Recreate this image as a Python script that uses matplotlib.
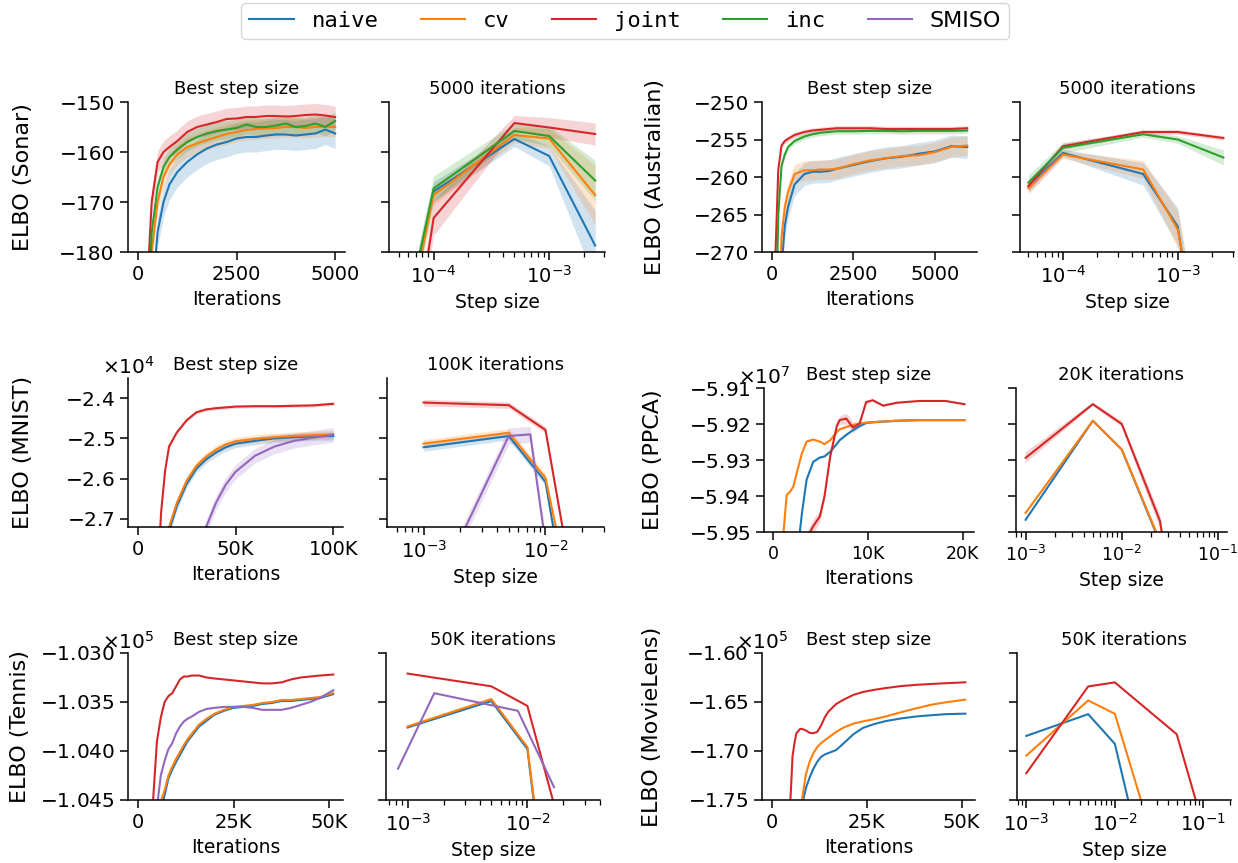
import numpy as np
import matplotlib.pyplot as plt
from matplotlib.lines import Line2D

plt.rcParams['font.family'] = ['DejaVu Sans']
plt.rcParams['font.size'] = 13
plt.rcParams['xtick.labelsize'] = 14
plt.rcParams['ytick.labelsize'] = 14.5
plt.rcParams['axes.spines.top'] = False
plt.rcParams['axes.spines.right'] = False
plt.rcParams['axes.linewidth'] = 1.1
plt.rcParams['xtick.major.size'] = 6
plt.rcParams['ytick.major.size'] = 6
plt.rcParams['xtick.minor.size'] = 3.5
plt.rcParams['xtick.major.width'] = 1.1
plt.rcParams['ytick.major.width'] = 1.1
plt.rcParams['xtick.minor.width'] = 0.9

methods = ['naive', 'cv', 'joint', 'inc', 'SMISO']
colors = {'naive': '#1f77b4', 'cv': '#ff7f0e', 'joint': '#d62728',
          'inc': '#2ca02c', 'SMISO': '#9467bd'}

# ---------------- Sonar ----------------
sonar_iters = [0, 250, 350, 500, 650, 800, 1000, 1250, 1500, 1750, 2000, 2250,
               2500, 2750, 3000, 3250, 3500, 3750, 4000, 4250, 4500, 4750, 5000]
sonar_best = {
    'naive': [-300, -215, -190, -176, -170, -166.5, -164, -162, -160.5, -159.3, -158.5, -158,
              -157.3, -157, -157, -156.7, -156.5, -156.5, -156.7, -156.5, -156.3, -155.5, -156.3],
    'cv': [-300, -200, -180, -170, -165, -162.5, -160.5, -159, -158.3, -157.6, -157, -156.4,
           -156, -155.6, -155.4, -155.3, -155.2, -155, -155, -155.2, -155, -154.9, -155],
    'joint': [-300, -185, -170, -162, -160, -159, -157.8, -156, -155, -154.5, -154, -153.4,
              -153.3, -153, -153, -152.8, -152.8, -152.9, -152.8, -152.6, -152.5, -152.7, -153],
    'inc': [-300, -195, -176, -167, -163, -161, -159.5, -158, -157, -156.3, -155.8, -155.5,
            -155.2, -154.5, -155, -155, -154.7, -154.3, -155, -154.8, -154.3, -155, -153.8],
}
sonar_best_std = {'naive': 3.0, 'cv': 2.0, 'joint': 2.2, 'inc': 1.8}
sonar_steps = [5e-5, 1e-4, 5e-4, 1e-3, 2.5e-3]
sonar_final = {
    'naive': [-200, -167.9, -157.4, -160.8, -178.7],
    'cv': [-202, -168.6, -156.6, -157.3, -168.6],
    'joint': [-218, -173.2, -154.2, -155.1, -156.4],
    'inc': [-200, -167.3, -155.8, -156.8, -165.7],
}
sonar_final_std = {
    'naive': [3, 2, 1.5, 2, 7],
    'cv': [3, 2, 1.5, 2, 6],
    'joint': [3, 3.5, 1.5, 2, 2.2],
    'inc': [3, 2.5, 1.5, 2, 4],
}

# ---------------- Australian ----------------
aus_iters = [0, 100, 200, 300, 400, 500, 700, 1000, 1250, 1500, 1750, 2000,
             2500, 3000, 3500, 4000, 4500, 5000, 5500, 6000]
aus_best = {
    'naive': [-320, -305, -290, -272, -266.5, -264, -261, -259.6, -259.3, -259.3, -259.2, -258.9,
              -258.4, -257.9, -257.5, -257.3, -256.9, -256.6, -255.9, -256],
    'cv': [-320, -300, -280, -268, -264, -262, -259.6, -259.1, -259.1, -259, -259, -258.9,
           -258.3, -257.8, -257.5, -257.2, -257.1, -256.7, -256, -255.8],
    'joint': [-320, -272, -259, -255.8, -255.2, -254.9, -254.4, -254, -253.8, -253.7, -253.6, -253.5,
              -253.5, -253.5, -253.6, -253.6, -253.6, -253.6, -253.6, -253.5],
    'inc': [-320, -285, -265, -258.5, -257, -256, -255.2, -254.6, -254.3, -254.1, -254, -253.9,
            -253.9, -253.85, -253.85, -253.9, -253.85, -253.85, -253.85, -253.8],
}
aus_best_std = {'naive': 1.5, 'cv': 1.3, 'joint': 0.35, 'inc': 0.4}
aus_steps = [5e-5, 1e-4, 5e-4, 1e-3, 2.5e-3]
aus_final = {
    'naive': [-261.3, -256.8, -259.6, -266.6, -306],
    'cv': [-261.5, -257.0, -259.0, -267.0, -300],
    'joint': [-261.2, -255.9, -254.0, -254.0, -254.8],
    'inc': [-260.75, -256.1, -254.3, -255.0, -257.4],
}
aus_final_std = {
    'naive': [0.8, 0.5, 1.5, 2.5, 3],
    'cv': [0.8, 0.5, 1.2, 2.5, 3],
    'joint': [0.6, 0.4, 0.3, 0.3, 0.3],
    'inc': [1.0, 0.7, 0.4, 0.5, 1.0],
}

# ---------------- MNIST (x1e4) ----------------
mnist_iters = [0, 10e3, 12e3, 14e3, 16e3, 20e3, 25e3, 30e3, 35e3, 40e3, 45e3,
               50e3, 60e3, 70e3, 80e3, 90e3, 100e3]
mnist_best = {
    'naive': [-3.5, -3.2, -3.0, -2.8, -2.73, -2.668, -2.613, -2.575, -2.552, -2.535, -2.522,
              -2.513, -2.506, -2.5, -2.497, -2.495, -2.494],
    'cv': [-3.5, -3.2, -3.0, -2.78, -2.72, -2.66, -2.605, -2.568, -2.545, -2.528, -2.515,
           -2.507, -2.501, -2.497, -2.494, -2.492, -2.490],
    'joint': [-3.5, -2.85, -2.68, -2.58, -2.52, -2.485, -2.455, -2.435, -2.428, -2.425, -2.423,
              -2.421, -2.42, -2.42, -2.419, -2.418, -2.414],
    'SMISO': [-4.0, -3.6, -3.5, -3.4, -3.3, -3.1, -2.95, -2.79, -2.72, -2.66, -2.615,
              -2.583, -2.543, -2.52, -2.506, -2.498, -2.491],
}
mnist_best_std = {'naive': 0.01, 'cv': 0.01, 'joint': 0.004, 'SMISO': 0.018}
mnist_steps = [1e-3, 5e-3, 1e-2, 2e-2]
mnist_smiso_steps = [1e-3, 5e-3, 7.5e-3, 1e-2]
mnist_final = {
    'naive': [-2.522, -2.494, -2.608, -3.14],
    'cv': [-2.513, -2.486, -2.598, -3.03],
    'joint': [-2.411, -2.4175, -2.479, -3.0],
    'SMISO': [-2.94, -2.494, -2.49, -2.76],
}
mnist_final_std = {'naive': 0.01, 'cv': 0.01, 'joint': 0.008, 'SMISO': 0.02}

# ---------------- PPCA (x1e7) ----------------
ppca_iters = [0, 1e3, 1.4e3, 1.75e3, 2.1e3, 2.45e3, 3e3, 3.5e3, 4.2e3, 4.9e3, 5.4e3, 6e3,
              6.7e3, 7e3, 7.7e3, 8.4e3, 9.1e3, 9.8e3, 10.5e3, 11.6e3, 13e3, 15.4e3, 18.2e3, 20.2e3]
ppca_best = {
    'naive': [-5.99, -5.98, -5.975, -5.97, -5.965, -5.958, -5.945, -5.9355, -5.9305, -5.9293,
              -5.929, -5.9277, -5.9255, -5.9245, -5.923, -5.9217, -5.9206, -5.9197, -5.9195,
              -5.9193, -5.9191, -5.9189, -5.9189, -5.9189],
    'cv': [-5.97, -5.952, -5.9397, -5.9388, -5.9374, -5.9337, -5.9282, -5.9249, -5.9243, -5.9249,
           -5.9256, -5.9245, -5.9222, -5.9215, -5.9208, -5.9203, -5.9199, -5.9196, -5.9195,
           -5.9193, -5.9191, -5.9189, -5.9189, -5.9189],
    'joint': [-6.0, -5.99, -5.985, -5.98, -5.975, -5.97, -5.96, -5.952, -5.9484, -5.9457,
              -5.940, -5.929, -5.9205, -5.9189, -5.9185, -5.921, -5.9199, -5.9139, -5.9134,
              -5.9149, -5.9141, -5.9136, -5.9136, -5.9145],
}
ppca_best_std = {
    'naive': [0.0003] * 24,
    'cv': [0.0002] * 24,
    'joint': [0.0003, 0.0003, 0.0003, 0.0003, 0.0003, 0.0003, 0.001, 0.002, 0.002, 0.0015,
              0.001, 0.0008, 0.001, 0.0012, 0.0015, 0.0015, 0.0008, 0.0004, 0.0003, 0.0003,
              0.0002, 0.0002, 0.0002, 0.0003],
}
ppca_steps = [1e-3, 5e-3, 1e-2, 2.5e-2, 5e-2, 1e-1]
ppca_final = {
    'naive': [-5.9466, -5.9191, -5.9271, -5.953, -6.1, -6.3],
    'cv': [-5.9447, -5.9191, -5.9271, -5.9526, -6.1, -6.3],
    'joint': [-5.9294, -5.9145, -5.92, -5.947, -6.0, -6.2],
}
ppca_final_std = {
    'naive': [0.0002, 0.0001, 0.0001, 0.0002, 0.001, 0.001],
    'cv': [0.0004, 0.0001, 0.0001, 0.0002, 0.001, 0.001],
    'joint': [0.0015, 0.0005, 0.0008, 0.002, 0.002, 0.002],
}

# ---------------- Tennis (x1e5) ----------------
tennis_iters = [0, 4e3, 5e3, 6e3, 7e3, 8e3, 9e3, 10e3, 11e3, 12e3, 13e3, 14e3, 16e3, 18e3,
                20e3, 22.5e3, 25e3, 27.5e3, 30e3, 32.5e3, 35e3, 37.5e3, 40e3, 42.5e3, 45e3,
                47.5e3, 51e3]
tennis_best = {
    'naive': [-1.07, -1.056, -1.05, -1.0462, -1.0445, -1.0428, -1.0419, -1.0411, -1.0404,
              -1.0397, -1.039, -1.0385, -1.0375, -1.0369, -1.0363, -1.0359, -1.0356, -1.0355,
              -1.0354, -1.0352, -1.0351, -1.0349, -1.0349, -1.0348, -1.0347, -1.0346, -1.0342],
    'cv': [-1.07, -1.055, -1.049, -1.0452, -1.044, -1.0425, -1.0416, -1.0408, -1.0401,
           -1.0394, -1.0388, -1.0383, -1.0373, -1.0367, -1.0362, -1.0358, -1.0355, -1.0354,
           -1.0353, -1.0351, -1.035, -1.0348, -1.0348, -1.0347, -1.0346, -1.0345, -1.0341],
    'joint': [-1.06, -1.045, -1.039, -1.0366, -1.035, -1.0344, -1.0341, -1.0334, -1.0327,
              -1.0324, -1.0324, -1.0323, -1.0323, -1.0325, -1.0326, -1.0327, -1.0328, -1.0329,
              -1.033, -1.0331, -1.0331, -1.033, -1.0327, -1.0325, -1.0324, -1.0323, -1.0322],
    'SMISO': [-1.07, -1.052, -1.0458, -1.0425, -1.041, -1.0398, -1.0392, -1.0382, -1.0375,
              -1.037, -1.0367, -1.0365, -1.036, -1.0357, -1.0356, -1.0355, -1.0355, -1.0355,
              -1.0356, -1.0358, -1.0358, -1.0358, -1.0356, -1.0353, -1.035, -1.0346, -1.0338],
}
tennis_steps = [1e-3, 5e-3, 1e-2, 2e-2]
tennis_smiso_steps = [8.33e-4, 1.67e-3, 8.33e-3, 1.67e-2]
tennis_final = {
    'naive': [-1.0376, -1.0349, -1.0398, -1.07],
    'cv': [-1.0375, -1.0347, -1.0396, -1.069],
    'joint': [-1.0321, -1.0334, -1.0354, -1.049],
    'SMISO': [-1.0418, -1.0341, -1.0359, -1.0437],
}

# ---------------- MovieLens (x1e5) ----------------
movie_iters = [0, 4.5e3, 5e3, 5.5e3, 6e3, 6.5e3, 7.5e3, 8e3, 9e3, 10e3, 11e3, 12e3, 13e3,
               14e3, 15e3, 17e3, 19e3, 21.5e3, 24e3, 27e3, 30e3, 34e3, 38e3, 42e3, 46e3, 51e3]
movie_best = {
    'naive': [-1.9, -1.85, -1.83, -1.815, -1.8, -1.785, -1.765, -1.755, -1.738, -1.727, -1.718,
              -1.711, -1.706, -1.7035, -1.702, -1.699, -1.692, -1.683, -1.6765, -1.6725, -1.6695,
              -1.6668, -1.6648, -1.6635, -1.6624, -1.6619],
    'cv': [-1.9, -1.85, -1.83, -1.81, -1.795, -1.78, -1.76, -1.749, -1.724, -1.711, -1.702,
           -1.696, -1.692, -1.689, -1.6862, -1.6805, -1.676, -1.6721, -1.6698, -1.6675, -1.6648,
           -1.6605, -1.6565, -1.6528, -1.6502, -1.6476],
    'joint': [-1.85, -1.78, -1.745, -1.705, -1.692, -1.682, -1.6775, -1.6775, -1.679, -1.6815,
              -1.6818, -1.6805, -1.674, -1.6655, -1.6595, -1.652, -1.6475, -1.6428, -1.6398,
              -1.6376, -1.6358, -1.6338, -1.6325, -1.6316, -1.6308, -1.6299],
}
movie_joint_steps = [1e-3, 5e-3, 1e-2, 5e-2, 1e-1]
movie_steps = [1e-3, 5e-3, 1e-2, 2e-2, 5e-2]
movie_final = {
    'naive': [-1.6846, -1.6624, -1.6927, -1.807, -1.95],
    'cv': [-1.7047, -1.6484, -1.662, -1.752, -1.95],
    'joint': [-1.7227, -1.6341, -1.63, -1.6829, -1.777],
}

W, H = 1238, 863
fig = plt.figure(figsize=(W / 100, H / 100), dpi=100)


def box(x0, x1, y0, y1):
    return [x0 / W, 1 - y1 / H, (x1 - x0) / W, (y1 - y0) / H]


def curve(ax, x, y, std=None, m='naive', scale=1.0):
    x = np.asarray(x)
    y = np.asarray(y) * scale
    ax.plot(x, y, color=colors[m], lw=1.5)
    if std is not None:
        s = np.asarray(std) * scale
        ax.fill_between(x, y - s, y + s, color=colors[m], alpha=0.2, lw=0)


def style_best(ax, xlim, xticks, xlabels, ylim, yticks, ylabel, labx, sci=False):
    ax.set_xlim(*xlim)
    ax.set_xticks(xticks, xlabels)
    ax.set_ylim(*ylim)
    ax.set_yticks(yticks)
    if sci:
        ax.ticklabel_format(axis='y', style='sci', scilimits=(0, 0),
                            useMathText=True, useOffset=False)
        ax.yaxis.get_offset_text().set_horizontalalignment('center')
    ax.set_ylabel(ylabel, fontsize=16)
    ax.yaxis.set_label_coords(labx, 0.5)
    ax.set_xlabel('Iterations', fontsize=13.5)
    ax.set_title('Best step size', fontsize=13)


def style_final(ax, xlim, ylim, yticks, title):
    ax.set_xscale('log')
    ax.set_xlim(*xlim)
    ax.set_ylim(*ylim)
    ax.set_yticks(yticks)
    ax.tick_params(axis='y', labelleft=False)
    ax.set_xlabel('Step size', fontsize=13.5)
    ax.set_title(title, fontsize=13)


# Sonar
ax = fig.add_axes(box(128, 345, 102, 252))
for m in ['naive', 'cv', 'joint', 'inc']:
    curve(ax, sonar_iters, sonar_best[m], sonar_best_std[m], m)
style_best(ax, (-250, 5250), [0, 2500, 5000], ['0', '2500', '5000'],
           (-180, -150), [-180, -170, -160, -150], 'ELBO (Sonar)', -0.44)
ax = fig.add_axes(box(389, 605, 102, 252))
for m in ['naive', 'cv', 'joint', 'inc']:
    curve(ax, sonar_steps, sonar_final[m], sonar_final_std[m], m)
style_final(ax, (10 ** -4.386, 10 ** -2.517), (-180, -150), [-180, -170, -160, -150],
            '5000 iterations')

# Australian
ax = fig.add_axes(box(762, 977, 102, 252))
for m in ['naive', 'cv', 'joint', 'inc']:
    curve(ax, aus_iters, aus_best[m], aus_best_std[m], m)
style_best(ax, (-300, 6300), [0, 2500, 5000], ['0', '2500', '5000'],
           (-270, -250), [-270, -265, -260, -255, -250], 'ELBO (Australian)', -0.45)
ax = fig.add_axes(box(1020, 1234, 102, 252))
for m in ['naive', 'cv', 'joint', 'inc']:
    curve(ax, aus_steps, aus_final[m], aus_final_std[m], m)
style_final(ax, (10 ** -4.374, 10 ** -2.51), (-270, -250), [-270, -265, -260, -255, -250],
            '5000 iterations')

# MNIST
ax = fig.add_axes(box(128, 343, 378, 527))
for m in ['naive', 'cv', 'joint', 'SMISO']:
    curve(ax, mnist_iters, mnist_best[m], mnist_best_std[m], m, 1e4)
style_best(ax, (-5000, 105000), [0, 50000, 100000], ['0', '50K', '100K'],
           (-27200, -23500), [-27000, -26000, -25000, -24000], 'ELBO (MNIST)', -0.44, sci=True)
ax = fig.add_axes(box(387, 604, 378, 527))
for m in ['naive', 'cv', 'joint']:
    curve(ax, mnist_steps, mnist_final[m], mnist_final_std[m], m, 1e4)
curve(ax, mnist_smiso_steps, mnist_final['SMISO'], mnist_final_std['SMISO'], 'SMISO', 1e4)
style_final(ax, (10 ** -3.3, 10 ** -1.52), (-27200, -23500), [-27000, -26000, -25000, -24000],
            '100K iterations')

# PPCA
ax = fig.add_axes(box(764, 974, 388, 532))
for m in ['naive', 'cv', 'joint']:
    curve(ax, ppca_iters, ppca_best[m], ppca_best_std[m], m, 1e7)
style_best(ax, (-1000, 21200), [0, 10000, 20000], ['0', '10K', '20K'],
           (-5.95e7, -5.91e7), [-5.95e7, -5.94e7, -5.93e7, -5.92e7, -5.91e7],
           'ELBO (PPCA)', -0.48, sci=True)
ax.tick_params(axis='x', labelsize=12.5)
ax = fig.add_axes(box(1016, 1227, 388, 532))
for m in ['naive', 'cv', 'joint']:
    curve(ax, ppca_steps, ppca_final[m], ppca_final_std[m], m, 1e7)
style_final(ax, (10 ** -3.1, 10 ** -0.906), (-5.95e7, -5.91e7),
            [-5.95e7, -5.94e7, -5.93e7, -5.92e7, -5.91e7], '20K iterations')
ax.tick_params(axis='x', labelsize=12.5)

# Tennis
ax = fig.add_axes(box(128, 343, 653, 800))
for m in ['naive', 'cv', 'joint', 'SMISO']:
    curve(ax, tennis_iters, tennis_best[m], None, m, 1e5)
style_best(ax, (-2550, 53550), [0, 25000, 50000], ['0', '25K', '50K'],
           (-1.045e5, -1.030e5), [-1.045e5, -1.040e5, -1.035e5, -1.030e5],
           'ELBO (Tennis)', -0.455, sci=True)
ax = fig.add_axes(box(386, 600, 653, 800))
for m in ['naive', 'cv', 'joint']:
    curve(ax, tennis_steps, tennis_final[m], None, m, 1e5)
curve(ax, tennis_smiso_steps, tennis_final['SMISO'], None, 'SMISO', 1e5)
style_final(ax, (10 ** -3.18, 10 ** -1.394), (-1.045e5, -1.030e5),
            [-1.045e5, -1.040e5, -1.035e5, -1.030e5], '50K iterations')

# MovieLens
ax = fig.add_axes(box(762, 975, 653, 800))
for m in ['naive', 'cv', 'joint']:
    curve(ax, movie_iters, movie_best[m], None, m, 1e5)
style_best(ax, (-2550, 53550), [0, 25000, 50000], ['0', '25K', '50K'],
           (-1.75e5, -1.60e5), [-1.75e5, -1.70e5, -1.65e5, -1.60e5],
           'ELBO (MovieLens)', -0.47, sci=True)
ax = fig.add_axes(box(1017, 1231, 653, 800))
for m in ['naive', 'cv']:
    curve(ax, movie_steps, movie_final[m], None, m, 1e5)
curve(ax, movie_joint_steps, movie_final['joint'], None, 'joint', 1e5)
style_final(ax, (10 ** -3.105, 10 ** -0.688), (-1.75e5, -1.60e5),
            [-1.75e5, -1.70e5, -1.65e5, -1.60e5], '50K iterations')

handles = [Line2D([], [], color=colors[m], lw=1.5) for m in methods]
leg = fig.legend(handles, methods, loc='upper center', bbox_to_anchor=(0.505, 1.0),
                 ncol=5, fontsize=16, handlelength=2.0, columnspacing=1.9,
                 borderpad=0.35, borderaxespad=0.15, edgecolor='0.8', fancybox=True)
for t in leg.get_texts()[:4]:
    t.set_fontfamily('DejaVu Sans Mono')

fig.savefig('out.png', dpi=100)
